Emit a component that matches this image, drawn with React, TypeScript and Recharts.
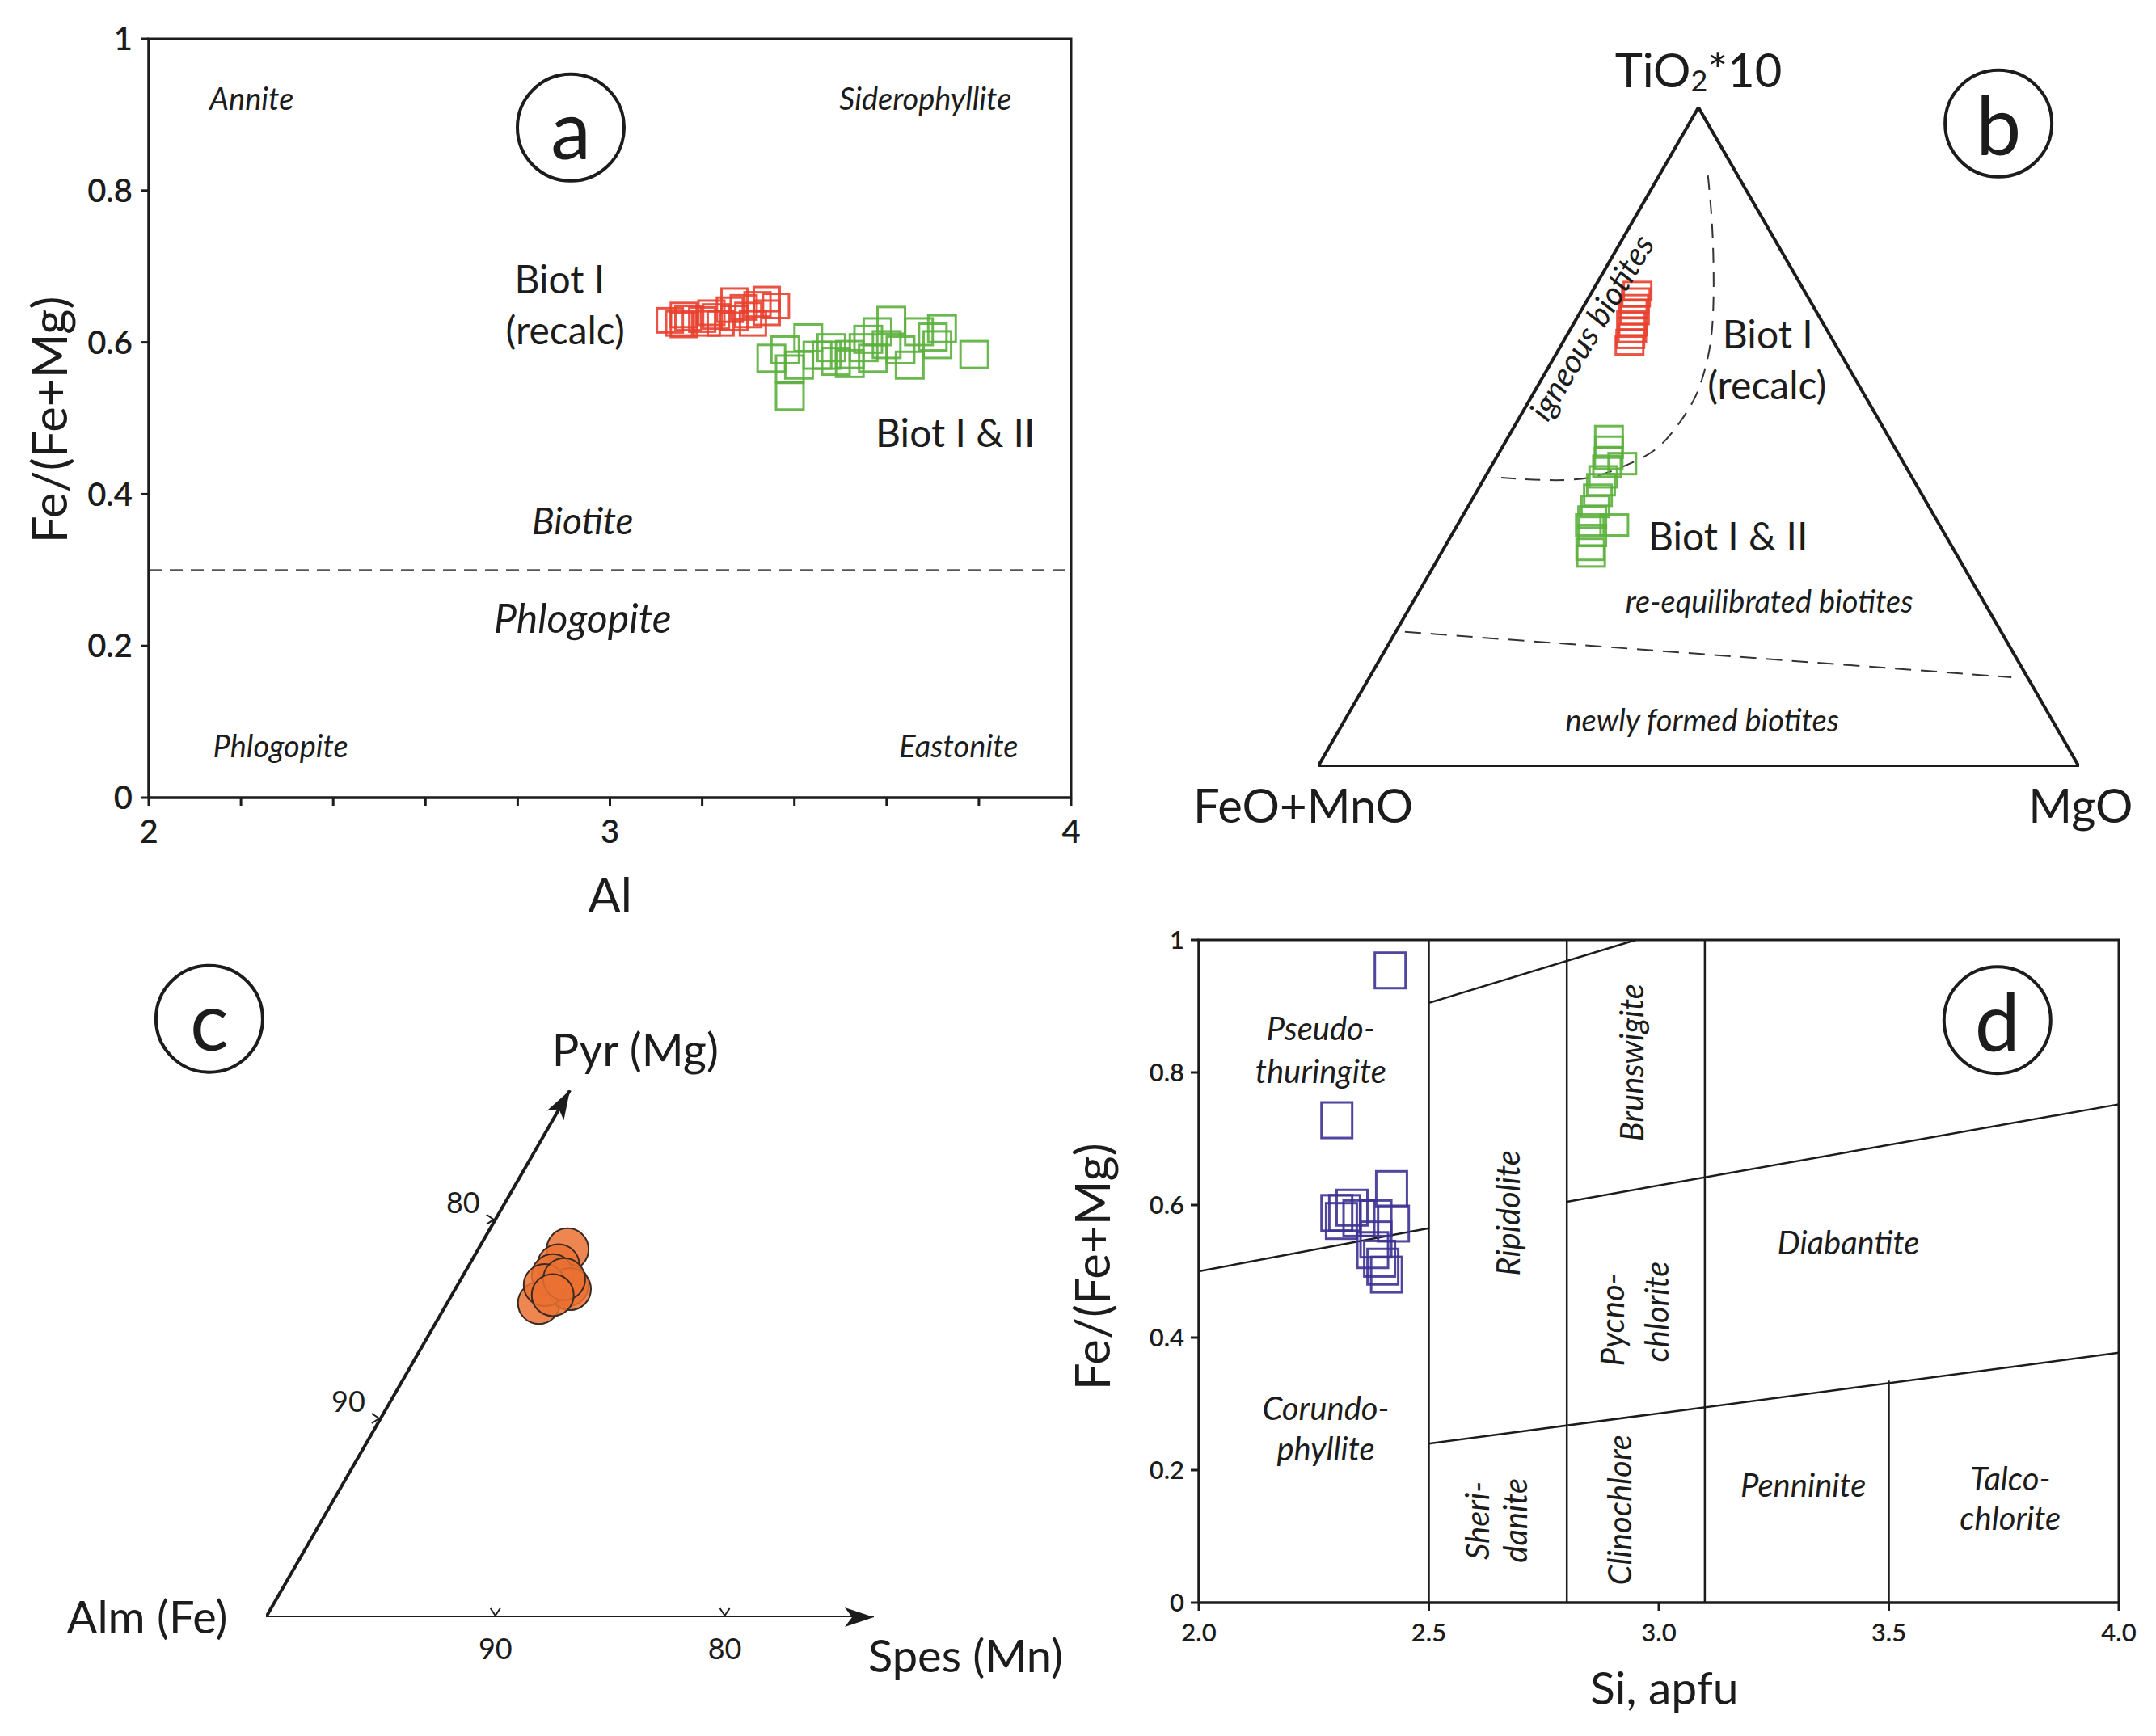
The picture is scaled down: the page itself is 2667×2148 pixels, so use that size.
import React from 'react';
import { ScatterChart, Scatter, XAxis, YAxis, ReferenceLine, ReferenceArea, ReferenceDot } from 'recharts';

const FONT = 'Lato, "Open Sans", sans-serif';
const INK = '#1c1c1c';
const H = Math.sqrt(3) / 2;

// ---------- panel a : Fe/(Fe+Mg) vs Al ----------
const recalcAl = [3.13, 3.16, 3.17, 3.16, 3.2, 3.23, 3.26, 3.27, 3.29, 3.3, 3.32, 3.34, 3.36, 3.31, 3.22, 3.24, 3.34, 3.27, 3.15, 3.21];
const recalcRatio = [0.629, 0.636, 0.632, 0.623, 0.63, 0.634, 0.643, 0.632, 0.646, 0.636, 0.65, 0.639, 0.648, 0.625, 0.639, 0.625, 0.657, 0.655, 0.625, 0.625];
const biotAl = [3.35, 3.39, 3.39, 3.41, 3.43, 3.45, 3.47, 3.49, 3.52, 3.55, 3.56, 3.58, 3.6, 3.61, 3.63, 3.65, 3.67, 3.7, 3.72, 3.71, 3.79, 3.52, 3.57, 3.38, 3.48];
const biotRatio = [0.579, 0.565, 0.529, 0.57, 0.606, 0.583, 0.583, 0.575, 0.584, 0.593, 0.604, 0.614, 0.597, 0.629, 0.59, 0.57, 0.614, 0.607, 0.618, 0.597, 0.584, 0.572, 0.579, 0.59, 0.593];
const aXTicks = [2, 2.2, 2.4, 2.6, 2.8, 3, 3.2, 3.4, 3.6, 3.8, 4];
const aYTicks = [0, 0.2, 0.4, 0.6, 0.8, 1];

// ---------- panel b : TiO2*10 - FeO+MnO - MgO ternary ----------
const recalcTi = [72.2, 71.2, 70.2, 69.4, 68.5, 67.7, 66.8, 65.8, 64.9, 63.9];
const recalcFe = [21.9, 22.6, 23.3, 23.9, 24.1, 25.0, 25.2, 25.8, 26.5, 27.1];
const recalcMg = [5.9, 6.2, 6.5, 6.7, 7.4, 7.3, 8.0, 8.4, 8.6, 9.0];
const biotTi = [50.1, 48.5, 46.8, 45.6, 44.0, 42.8, 41.2, 39.5, 37.9, 36.7, 36.7, 35.1, 33.0, 32.0, 46.0];
const biotFe = [36.7, 37.5, 38.4, 39.2, 40.5, 41.4, 42.6, 43.8, 45.0, 45.9, 42.7, 46.4, 47.7, 48.1, 37.0];
const biotMg = [13.2, 14.0, 14.8, 15.2, 15.5, 15.8, 16.2, 16.7, 17.1, 17.4, 20.6, 18.5, 19.3, 19.9, 17.0];
// igneous / re-equilibrated boundary and re-equilibrated / newly formed boundary (TiO2, FeO, MgO)
const igneousBoundary = [
  [89.7, 3.9, 6.4], [82.0, 7.2, 10.8], [73.4, 11.3, 15.3], [66.6, 14.9, 18.5], [61.4, 18.2, 20.4],
  [56.3, 22.2, 21.5], [52.1, 26.5, 21.4], [48.2, 31.5, 20.3], [45.6, 37.0, 17.4], [43.9, 42.3, 13.8],
  [43.5, 47.9, 8.6], [43.9, 54.3, 1.8],
];
const newlyFormedBoundary = [[20.5, 78.3, 1.2], [13.6, 2.1, 84.3]];
const triangleCorners = [[100, 0, 0], [0, 100, 0], [0, 0, 100], [100, 0, 0]];

// ---------- panel c : garnet Alm-Pyr-Spes ----------
const garnetPyr = [18.5, 17.7, 16.7, 15.8, 17.2, 16.5, 16.7, 17.0, 16.2];
const garnetSpes = [3.9, 3.9, 4.8, 4.0, 3.9, 5.0, 3.8, 4.5, 4.4];
const garnetAxisMax = 26.5;
const garnetTicks = [90, 80];

// ---------- panel d : chlorite classification ----------
const chlSi = [2.416, 2.3, 2.419, 2.317, 2.31, 2.348, 2.385, 2.423, 2.385, 2.378, 2.4, 2.408, 2.393, 2.3, 2.333];
const chlRatio = [0.954, 0.728, 0.624, 0.588, 0.576, 0.58, 0.58, 0.572, 0.548, 0.532, 0.507, 0.495, 0.519, 0.588, 0.596];
const dXTicks = [2, 2.5, 3, 3.5, 4];
const dYTicks = [0, 0.2, 0.4, 0.6, 0.8, 1];
const chlBoundaries = [
  [[2.5, 0], [2.5, 1]], [[2.8, 0], [2.8, 1]], [[3.1, 0], [3.1, 1]], [[3.5, 0], [3.5, 0.335]],
  [[2.5, 0.905], [2.95, 1]], [[2.0, 0.5], [2.5, 0.565]], [[2.8, 0.605], [4.0, 0.752]], [[2.5, 0.24], [4.0, 0.377]],
];

const ternary = (top: number, left: number, right: number) => {
  const s = top + left + right;
  const t = top / s;
  return { x: right / s + t / 2, y: t * H };
};

const pairs = (xs: number[], ys: number[]) => xs.map((x, i) => ({ x, y: ys[i] }));
const ternaryPoints = (t: number[], f: number[], m: number[]) => t.map((v, i) => ternary(v, f[i], m[i]));
const garnetPoints = garnetPyr.map((p, i) => ({ x: garnetSpes[i] + p / 2, y: p * H }));

type Note = { x: number; y: number; text: string; size: number; italic?: boolean; rotate?: number };

const notesA: Note[] = [
  { x: 2.223, y: 0.922, text: 'Annite', size: 38, italic: true },
  { x: 3.684, y: 0.922, text: 'Siderophyllite', size: 38, italic: true },
  { x: 2.891, y: 0.684, text: 'Biot I', size: 48 },
  { x: 2.903, y: 0.617, text: '(recalc)', size: 48 },
  { x: 3.749, y: 0.482, text: 'Biot I & II', size: 48 },
  { x: 2.941, y: 0.366, text: 'Biotite', size: 46, italic: true },
  { x: 2.941, y: 0.2375, text: 'Phlogopite', size: 50, italic: true },
  { x: 2.286, y: 0.069, text: 'Phlogopite', size: 38, italic: true },
  { x: 3.756, y: 0.069, text: 'Eastonite', size: 38, italic: true },
  { x: 1.783, y: 0.498, text: 'Fe/(Fe+Mg)', size: 60, rotate: -90 },
  { x: 3.0, y: -0.127, text: 'Al', size: 60 },
];
const notesB: Note[] = [
  { x: 0.359, y: 0.5775, text: 'igneous biotites', size: 40, italic: true, rotate: -59 },
  { x: 0.591, y: 0.569, text: 'Biot I', size: 48 },
  { x: 0.59, y: 0.502, text: '(recalc)', size: 48 },
  { x: 0.539, y: 0.304, text: 'Biot I & II', size: 48 },
  { x: 0.593, y: 0.219, text: 're-equilibrated biotites', size: 38, italic: true },
  { x: 0.505, y: 0.063, text: 'newly formed biotites', size: 38, italic: true },
  { x: -0.019, y: -0.049, text: 'FeO+MnO', size: 58 },
  { x: 1.002, y: -0.049, text: 'MgO', size: 58 },
];
const notesC: Note[] = [
  { x: 16.1, y: 24.75, text: 'Pyr (Mg)', size: 56 },
  { x: -5.18, y: 0.07, text: 'Alm (Fe)', size: 56 },
  { x: 30.5, y: -1.65, text: 'Spes (Mn)', size: 56 },
];
const notesD: Note[] = [
  { x: 2.265, y: 0.867, text: 'Pseudo-', size: 40, italic: true },
  { x: 2.265, y: 0.802, text: 'thuringite', size: 40, italic: true },
  { x: 2.276, y: 0.294, text: 'Corundo-', size: 40, italic: true },
  { x: 2.276, y: 0.233, text: 'phyllite', size: 40, italic: true },
  { x: 2.672, y: 0.588, text: 'Ripidolite', size: 40, italic: true, rotate: -90 },
  { x: 2.94, y: 0.815, text: 'Brunswigite', size: 40, italic: true, rotate: -90 },
  { x: 2.898, y: 0.427, text: 'Pycno-', size: 40, italic: true, rotate: -90 },
  { x: 2.994, y: 0.439, text: 'chlorite', size: 40, italic: true, rotate: -90 },
  { x: 3.412, y: 0.544, text: 'Diabantite', size: 40, italic: true },
  { x: 2.605, y: 0.124, text: 'Sheri-', size: 40, italic: true, rotate: -90 },
  { x: 2.687, y: 0.124, text: 'danite', size: 40, italic: true, rotate: -90 },
  { x: 2.914, y: 0.14, text: 'Clinochlore', size: 40, italic: true, rotate: -90 },
  { x: 3.314, y: 0.178, text: 'Penninite', size: 40, italic: true },
  { x: 3.764, y: 0.188, text: 'Talco-', size: 40, italic: true },
  { x: 3.764, y: 0.128, text: 'chlorite', size: 40, italic: true },
  { x: 1.766, y: 0.507, text: 'Fe/(Fe+Mg)', size: 60, rotate: -90 },
  { x: 3.012, y: -0.127, text: 'Si, apfu', size: 57 },
];

const noteShape = (n: Note) => (p: any) => (
  <text
    x={p.cx}
    y={p.cy}
    textAnchor="middle"
    dominantBaseline="central"
    fontFamily={FONT}
    fontSize={n.size}
    fontStyle={n.italic ? 'italic' : 'normal'}
    fill={INK}
    transform={n.rotate ? `rotate(${n.rotate} ${p.cx} ${p.cy})` : undefined}
  >
    {n.text}
  </text>
);

const renderNotes = (notes: Note[], prefix: string) =>
  notes.map((n, i) => (
    <ReferenceDot key={`${prefix}${i}`} x={n.x} y={n.y} r={0} ifOverflow="visible" shape={noteShape(n)} />
  ));

const badge = (letter: string) => (p: any) => (
  <g>
    <circle cx={p.cx} cy={p.cy} r={66} fill="none" stroke={INK} strokeWidth={4} />
    <text x={p.cx} y={p.cy} textAnchor="middle" dominantBaseline="central" fontFamily={FONT} fontSize={100} fill={INK}>
      {letter}
    </text>
  </g>
);

const rectShape = (w: number, h: number, color: string) => (p: any) => (
  <rect x={p.cx - w / 2} y={p.cy - h / 2} width={w} height={h} fill="none" stroke={color} strokeWidth={3} strokeOpacity={0.9} />
);

const noMark = () => <g />;

const arrowHead = (angle: number) => (p: any) => (
  <polygon
    points={`${p.cx},${p.cy} ${p.cx - 36},${p.cy - 12} ${p.cx - 27},${p.cy} ${p.cx - 36},${p.cy + 12}`}
    fill={INK}
    transform={`rotate(${angle} ${p.cx} ${p.cy})`}
  />
);

const tickMark = (angle: number) => (p: any) => (
  <polyline
    points={`${p.cx - 6},${p.cy - 11} ${p.cx},${p.cy - 2} ${p.cx + 6},${p.cy - 11}`}
    fill="none"
    stroke={INK}
    strokeWidth={2}
    transform={`rotate(${angle} ${p.cx} ${p.cy})`}
  />
);

const tickText = (text: string, dx: number, dy: number) => (p: any) => (
  <text x={p.cx + dx} y={p.cy + dy} textAnchor="middle" dominantBaseline="central" fontFamily={FONT} fontSize={36} fill={INK}>
    {text}
  </text>
);

const axisTick = { fill: INK, fontSize: 40, fontFamily: FONT, fontWeight: 600 };
const axisTickSmall = { fill: INK, fontSize: 31, fontFamily: FONT, fontWeight: 600 };

export default function App() {
  return (
    <div style={{ position: 'absolute', left: 0, top: 0, width: 2667, height: 2148, background: '#ffffff', overflow: 'hidden' }}>
      {/* panel a */}
      <div style={{ position: 'absolute', left: 0, top: 0 }}>
        <ScatterChart width={1340} height={1180} margin={{ top: 48, right: 15, bottom: 133, left: 84 }}>
          <XAxis
            type="number"
            dataKey="x"
            domain={[2, 4]}
            allowDataOverflow
            ticks={aXTicks}
            interval={0}
            tickFormatter={(v: number) => (Number.isInteger(v) ? String(v) : '')}
            height={60}
            tickSize={10}
            tickMargin={18}
            stroke={INK}
            strokeWidth={3}
            tick={axisTick}
          />
          <YAxis
            type="number"
            dataKey="y"
            domain={[0, 1]}
            allowDataOverflow
            ticks={aYTicks}
            interval={0}
            width={100}
            tickSize={10}
            tickMargin={10}
            stroke={INK}
            strokeWidth={3}
            tick={axisTick}
          />
          <ReferenceArea x1={2} x2={4} y1={0} y2={1} fill="none" fillOpacity={0} stroke={INK} strokeWidth={3} />
          <ReferenceLine y={0.3} stroke="#555" strokeWidth={2} strokeDasharray="16 10" />
          <Scatter data={pairs(recalcAl, recalcRatio)} shape={rectShape(32, 30, '#e8402f')} isAnimationActive={false} />
          <Scatter data={pairs(biotAl, biotRatio)} shape={rectShape(34, 33, '#5bb03d')} isAnimationActive={false} />
          <ReferenceDot x={2.915} y={0.883} r={0} shape={badge('a')} />
          {renderNotes(notesA, 'a')}
        </ScatterChart>
      </div>

      {/* panel b */}
      <div style={{ position: 'absolute', left: 1340, top: 0 }}>
        <ScatterChart width={1327} height={1100} margin={{ top: 133, right: 95, bottom: 151, left: 290 }}>
          <XAxis type="number" dataKey="x" domain={[0, 1]} allowDataOverflow hide />
          <YAxis type="number" dataKey="y" domain={[0, H]} allowDataOverflow hide />
          <Scatter
            data={triangleCorners.map((c) => ternary(c[0], c[1], c[2]))}
            line={{ stroke: INK, strokeWidth: 4 }}
            shape={noMark}
            isAnimationActive={false}
          />
          <Scatter
            data={igneousBoundary.map((c) => ternary(c[0], c[1], c[2]))}
            line={{ stroke: '#333', strokeWidth: 2, strokeDasharray: '18 12' }}
            lineJointType="natural"
            shape={noMark}
            isAnimationActive={false}
          />
          <Scatter
            data={newlyFormedBoundary.map((c) => ternary(c[0], c[1], c[2]))}
            line={{ stroke: '#333', strokeWidth: 2, strokeDasharray: '20 12' }}
            shape={noMark}
            isAnimationActive={false}
          />
          <Scatter data={ternaryPoints(recalcTi, recalcFe, recalcMg)} shape={rectShape(34, 22, '#e8402f')} isAnimationActive={false} />
          <Scatter data={ternaryPoints(biotTi, biotFe, biotMg)} shape={rectShape(34, 26, '#5bb03d')} isAnimationActive={false} />
          <ReferenceDot
            x={0.5}
            y={0.917}
            r={0}
            ifOverflow="visible"
            shape={(p: any) => (
              <text x={p.cx} y={p.cy} textAnchor="middle" dominantBaseline="central" fontFamily={FONT} fontSize={58} fill={INK}>
                <tspan>TiO</tspan>
                <tspan fontSize={36} dy={14}>2</tspan>
                <tspan dy={-14}>*10</tspan>
              </text>
            )}
          />
          <ReferenceDot x={0.894} y={0.845} r={0} ifOverflow="visible" shape={badge('b')} />
          {renderNotes(notesB, 'b')}
        </ScatterChart>
      </div>

      {/* panel c */}
      <div style={{ position: 'absolute', left: 0, top: 1140 }}>
        <ScatterChart width={1340} height={1008} margin={{ top: 209, right: 259, bottom: 147, left: 329 }}>
          <XAxis type="number" dataKey="x" domain={[0, garnetAxisMax]} allowDataOverflow hide />
          <YAxis type="number" dataKey="y" domain={[0, garnetAxisMax * H]} allowDataOverflow hide />
          <Scatter
            data={[{ x: 0, y: 0 }, { x: garnetAxisMax / 2, y: garnetAxisMax * H }]}
            line={{ stroke: INK, strokeWidth: 4 }}
            shape={noMark}
            isAnimationActive={false}
          />
          <Scatter
            data={[{ x: 0, y: 0 }, { x: garnetAxisMax, y: 0 }]}
            line={{ stroke: INK, strokeWidth: 4 }}
            shape={noMark}
            isAnimationActive={false}
          />
          <ReferenceDot x={garnetAxisMax / 2} y={garnetAxisMax * H} r={0} ifOverflow="visible" shape={arrowHead(-60)} />
          <ReferenceDot x={garnetAxisMax} y={0} r={0} ifOverflow="visible" shape={arrowHead(0)} />
          {garnetTicks.map((t) => (
            <ReferenceDot key={`ps${t}`} x={100 - t} y={0} r={0} ifOverflow="visible" shape={tickMark(0)} />
          ))}
          {garnetTicks.map((t) => (
            <ReferenceDot key={`pst${t}`} x={100 - t} y={0} r={0} ifOverflow="visible" shape={tickText(String(t), 0, 38)} />
          ))}
          {garnetTicks.map((t) => (
            <ReferenceDot key={`pp${t}`} x={(100 - t) / 2} y={(100 - t) * H} r={0} ifOverflow="visible" shape={tickMark(-90)} />
          ))}
          {garnetTicks.map((t) => (
            <ReferenceDot key={`ppt${t}`} x={(100 - t) / 2} y={(100 - t) * H} r={0} ifOverflow="visible" shape={tickText(String(t), -40, -22)} />
          ))}
          <Scatter
            data={garnetPoints}
            shape={(p: any) => <circle cx={p.cx} cy={p.cy} r={26} fill="#ea7131" fillOpacity={0.85} stroke="#3a2a22" strokeWidth={2} />}
            isAnimationActive={false}
          />
          <ReferenceDot x={-2.47} y={26.06} r={0} ifOverflow="visible" shape={badge('c')} />
          {renderNotes(notesC, 'c')}
        </ScatterChart>
      </div>

      {/* panel d */}
      <div style={{ position: 'absolute', left: 1290, top: 1110 }}>
        <ScatterChart width={1377} height={1038} margin={{ top: 53, right: 46, bottom: 115, left: 133 }}>
          <XAxis
            type="number"
            dataKey="x"
            domain={[2, 4]}
            allowDataOverflow
            ticks={dXTicks}
            interval={0}
            tickFormatter={(v: number) => v.toFixed(1)}
            height={50}
            tickSize={10}
            tickMargin={16}
            stroke={INK}
            strokeWidth={3}
            tick={axisTickSmall}
          />
          <YAxis
            type="number"
            dataKey="y"
            domain={[0, 1]}
            allowDataOverflow
            ticks={dYTicks}
            interval={0}
            width={60}
            tickSize={10}
            tickMargin={8}
            stroke={INK}
            strokeWidth={3}
            tick={axisTickSmall}
          />
          <ReferenceArea x1={2} x2={4} y1={0} y2={1} fill="none" fillOpacity={0} stroke={INK} strokeWidth={3} />
          {chlBoundaries.map((s, i) => (
            <ReferenceLine
              key={`cb${i}`}
              segment={[{ x: s[0][0], y: s[0][1] }, { x: s[1][0], y: s[1][1] }]}
              stroke={INK}
              strokeWidth={2.5}
            />
          ))}
          <Scatter data={pairs(chlSi, chlRatio)} shape={rectShape(38, 44, '#3d3293')} isAnimationActive={false} />
          <ReferenceDot x={3.736} y={0.879} r={0} shape={badge('d')} />
          {renderNotes(notesD, 'd')}
        </ScatterChart>
      </div>
    </div>
  );
}
